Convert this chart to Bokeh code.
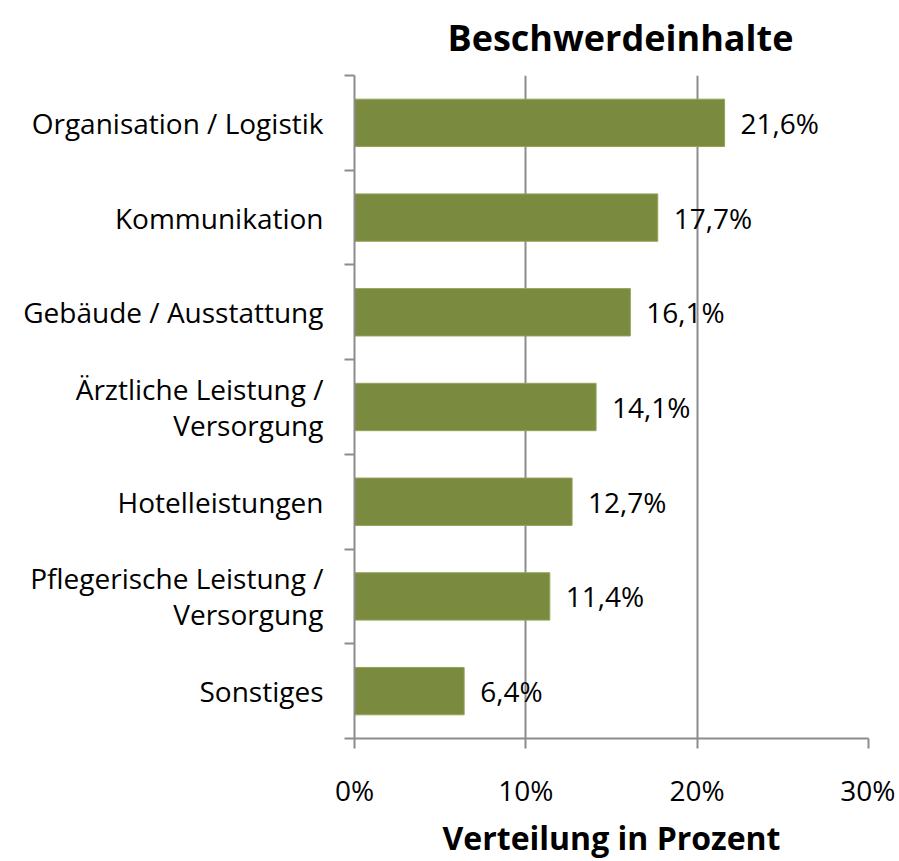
from bokeh.plotting import figure
from bokeh.models import (ColumnDataSource, FixedTicker, Range1d, Title,
                          PrintfTickFormatter)
from bokeh.core.properties import value
from bokeh.embed import file_html
from bokeh.resources import INLINE

categories = ["Organisation / Logistik", "Kommunikation", "Gebäude / Ausstattung",
              "Ärztliche Leistung /\nVersorgung", "Hotelleistungen",
              "Pflegerische Leistung /\nVersorgung", "Sonstiges"]
values = [21.6, 17.7, 16.1, 14.1, 12.7, 11.4, 6.4]
value_labels = ["21,6%", "17,7%", "16,1%", "14,1%", "12,7%", "11,4%", "6,4%"]
x_ticks = [0, 10, 20, 30]
title_text = "Beschwerdeinhalte"
x_title = "Verteilung in Prozent"

FONT = "Open Sans"
GRAY = "#8C8C8C"
n = len(categories)
ypos = [n - 0.5 - i for i in range(n)]

src = ColumnDataSource(dict(y=ypos, v=values, lab=value_labels))

p = figure(width=895, height=861, output_backend="svg", toolbar_location=None,
           x_range=Range1d(0, 30), y_range=Range1d(0, n),
           min_border_left=354, min_border_right=27, min_border_top=75,
           min_border_bottom=5)
p.outline_line_color = None
p.background_fill_color = "white"
p.border_fill_color = "white"

p.hbar(y="y", right="v", left=0, height=0.5, source=src,
       fill_color="#7A8B3F", line_color="#93A35A", line_width=1)

p.text(x="v", y="y", text="lab", source=src, x_offset=16,
       text_baseline="middle", text_align="left",
       text_font=value(FONT), text_font_size="28px", text_color="black")

# x axis
xa = p.xaxis[0]
xa.ticker = FixedTicker(ticks=x_ticks)
xa.formatter = PrintfTickFormatter(format="%d%%")
xa.axis_line_color = GRAY
xa.axis_line_width = 2
xa.major_tick_line_color = GRAY
xa.major_tick_line_width = 2
xa.major_tick_out = 10
xa.major_tick_in = 0
xa.minor_tick_line_color = None
xa.major_label_standoff = 22
xa.major_label_text_font = FONT
xa.major_label_text_font_size = "28px"
xa.major_label_text_color = "black"
xa.axis_label = x_title
xa.axis_label_text_font = FONT
xa.axis_label_text_font_style = "bold"
xa.axis_label_text_font_size = "32px"
xa.axis_label_text_color = "black"
xa.axis_label_standoff = 4

# y axis
ya = p.yaxis[0]
ya.ticker = FixedTicker(ticks=ypos, minor_ticks=list(range(n + 1)))
ya.major_label_overrides = {float(y): c for y, c in zip(ypos, categories)}
ya.axis_line_color = GRAY
ya.axis_line_width = 2
ya.major_tick_line_color = None
ya.major_tick_out = 0
ya.major_tick_in = 0
ya.minor_tick_line_color = GRAY
ya.minor_tick_line_width = 2
ya.minor_tick_out = 10
ya.minor_tick_in = 0
ya.major_label_standoff = 21
ya.major_label_text_font = FONT
ya.major_label_text_font_size = "28px"
ya.major_label_text_color = "black"
ya.major_label_text_line_height = 0.95

p.xgrid.grid_line_color = GRAY
p.xgrid.grid_line_width = 2
p.ygrid.grid_line_color = None

t = Title(text=title_text, text_font=FONT, text_font_style="bold",
          text_font_size="36px", text_color="black", align="left",
          vertical_align="top", offset=93, standoff=23)
p.add_layout(t, "above")

open("out.html", "w").write(file_html(p, INLINE))
